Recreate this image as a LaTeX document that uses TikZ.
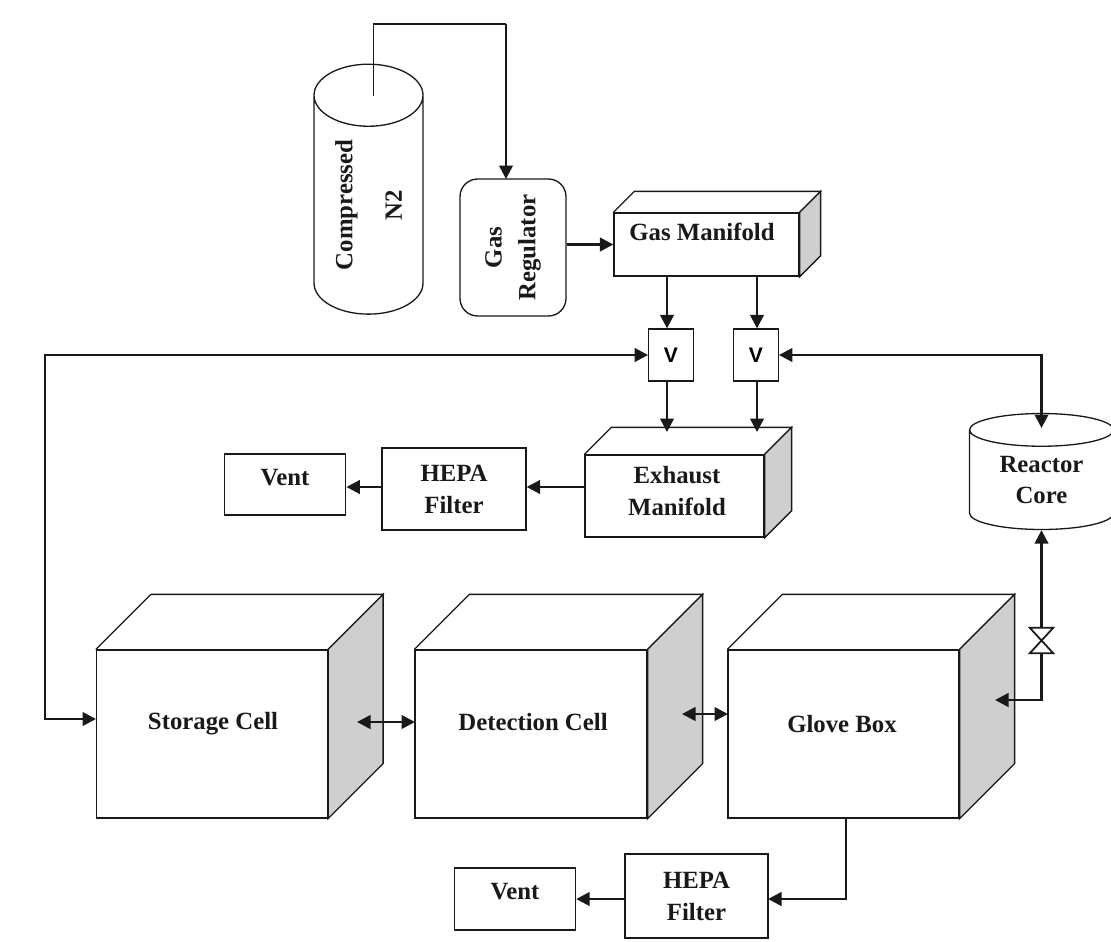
\documentclass[tikz,border=0pt]{standalone}
\usepackage{fontspec}
\setmainfont{Liberation Serif}
\newfontfamily\valvefont{Liberation Sans}
\definecolor{sidegray}{RGB}{208, 207, 208}
\definecolor{inkblack}{RGB}{25, 25, 25}
\usetikzlibrary{shapes.geometric, arrows.meta, calc}
\tikzset{
  flowtip/.tip={Triangle[length=2.7mm,width=2.7mm]},
  boxline/.style={draw=inkblack, line width=0.75pt},
  flow/.style={draw=inkblack, line width=1.5pt},
  boxtext/.style={font=\fontsize{14.1}{18.2}\selectfont\bfseries, text=inkblack, align=center, inner sep=0pt},
  plainbox/.style={boxline, rectangle, inner sep=0pt, fill=white},
}
\newcommand{\cuboid}[2]{%
  \draw[boxline] (#1.north west) -- ++(#2,-#2) -- ($(#1.north east)+(#2,-#2)$) -- (#1.north east);
  \draw[boxline, fill=sidegray] (#1.north east) -- ++(#2,-#2) -- ($(#1.south east)+(#2,-#2)$) -- (#1.south east) -- cycle;
}
\begin{document}
\begin{tikzpicture}[x=0.02cm, y=-0.02cm]
  \useasboundingbox (0, 0) rectangle (1111, 941);

  % Gas supply
  \node[boxline, boxtext, cylinder, rotate=90, aspect=0.93, minimum height=5cm, minimum width=2.18cm] (bottle) at (368.5, 205) {Compressed\\[10pt]N2};
  \node[plainbox, boxtext, rounded corners=10pt, rotate=90, minimum height=2.12cm, minimum width=2.74cm, font=\fontsize{14.1}{18.2}\selectfont\bfseries] (gasreg) at (513, 247.5) {Gas\\[1pt]Regulator};
  \node[plainbox, minimum width=3.7cm, minimum height=1.26cm] (gasman) at (706.5, 244.5) {};
  \cuboid{gasman}{21}
  \node[boxtext] (gasmanlabel) at (702, 232) {Gas Manifold};

  % Valves
  \node[plainbox, minimum width=0.89cm, minimum height=1.04cm, font=\valvefont\fontsize{12}{14}\selectfont\bfseries] (v1) at (671, 355) {V};
  \node[plainbox, minimum width=0.89cm, minimum height=1.04cm, font=\valvefont\fontsize{12}{14}\selectfont\bfseries] (v2) at (756, 355) {V};

  % Exhaust line
  \node[plainbox, minimum width=3.58cm, minimum height=1.64cm] (exman) at (674.5, 496) {};
  \cuboid{exman}{27}
  \node[boxtext] (exmanlabel) at (677, 491) {Exhaust\\Manifold};
  \node[plainbox, boxtext, minimum width=2.88cm, minimum height=1.64cm] (hepaone) at (454, 489) {HEPA\\Filter};
  \node[plainbox, minimum width=2.43cm, minimum height=1.22cm] (ventone) at (285, 484.5) {};
  \node[boxtext] (ventonelabel) at (285, 478) {Vent};

  % Cells
  \node[plainbox, minimum width=4.62cm, minimum height=3.36cm] (storage) at (212, 734) {};
  \cuboid{storage}{55}
  \node[boxtext] (storagelabel) at (213, 724) {Storage Cell};
  \node[plainbox, minimum width=4.64cm, minimum height=3.36cm] (detect) at (531, 734) {};
  \cuboid{detect}{55}
  \node[boxtext] (detectlabel) at (533, 722) {Detection Cell};
  \node[plainbox, minimum width=4.62cm, minimum height=3.36cm] (glove) at (843.5, 734) {};
  \cuboid{glove}{55}
  \node[boxtext] (glovelabel) at (842, 724) {Glove Box};

  % Bottom exhaust
  \node[plainbox, boxtext, minimum width=2.86cm, minimum height=1.68cm] (hepatwo) at (696.5, 896) {HEPA\\Filter};
  \node[plainbox, minimum width=2.42cm, minimum height=1.24cm] (venttwo) at (515, 899) {};
  \node[boxtext] (venttwolabel) at (515, 892) {Vent};

  % Reactor
  \node[boxline, boxtext, cylinder, shape border rotate=90, aspect=0.39, minimum height=2.32cm, minimum width=2.88cm] (reactor) at (1041.5, 480) {Reactor\\Core};
  \node[minimum width=0.46cm, minimum height=0.5cm, inner sep=0pt] (valve) at (1041.5, 640.5) {};

  % Guide coordinates for offset connectors
  \coordinate (pipestart) at (373.5, 96);
  \coordinate (pipecorner) at (373.5, 24);
  \coordinate (regin) at (506, 179);
  \coordinate (vxone) at (667, 300);
  \coordinate (vxtwo) at (757, 300);
  \coordinate (exin) at (700, 432);
  \coordinate (rowone) at (500, 487);
  \coordinate (leftbus) at (45, 540);
  \coordinate (storein) at (96, 719);
  \coordinate (corein) at (1041.5, 428);
  \coordinate (gloveport) at (995, 700);
  \coordinate (storeport) at (357, 722);
  \coordinate (detectin) at (415, 722);
  \coordinate (detectport) at (682, 714);
  \coordinate (glovein) at (728, 714);
  \coordinate (gloveout) at (846, 818);
  \coordinate (hepatwoin) at (768, 899);
  \coordinate (hepatwoout) at (625, 899);

  % Connectors
  \draw[boxline, line width=0.85pt] (pipestart) -- (pipecorner) -- (pipecorner -| regin);
  \draw[flow, -flowtip] (pipecorner -| regin) -- (regin);
  \draw[flow, -flowtip] (gasreg.south |- gasman.west) -- (gasman.west);
  \draw[flow, -flowtip] (gasman.south -| vxone) -- (v1.north -| vxone);
  \draw[flow, -flowtip] (gasman.south -| vxtwo) -- (v2.north -| vxtwo);
  \draw[flow, -flowtip] (v1.south -| vxone) -- (exin -| vxone);
  \draw[flow, -flowtip] (v2.south -| vxtwo) -- (exin -| vxtwo);
  \draw[flow, -flowtip] (rowone -| exman.west) -- (rowone -| hepaone.east);
  \draw[flow, -flowtip] (rowone -| hepaone.west) -- (rowone -| ventone.east);
  \draw[flow, flowtip-flowtip] (v1.west) -| (leftbus) |- (storein);
  \draw[flow, flowtip-flowtip] (v2.east) -| (corein);
  \draw[flow, flowtip-flowtip] (storeport) -- (detectin);
  \draw[flow, flowtip-flowtip] (detectport) -- (glovein);
  \draw[flow, -flowtip] (valve.north) -- (reactor.south);
  \draw[flow, -flowtip] (valve.south) |- (gloveport);
  \draw[flow, -flowtip] (gloveout) |- (hepatwoin);
  \draw[flow, -flowtip] (hepatwoout) -- (hepatwoout -| venttwo.east);
  \draw[boxline, line width=1pt, fill=white] (valve.north west) -- (valve.north east) -- (valve.south west) -- (valve.south east) -- cycle;
\end{tikzpicture}
\end{document}
